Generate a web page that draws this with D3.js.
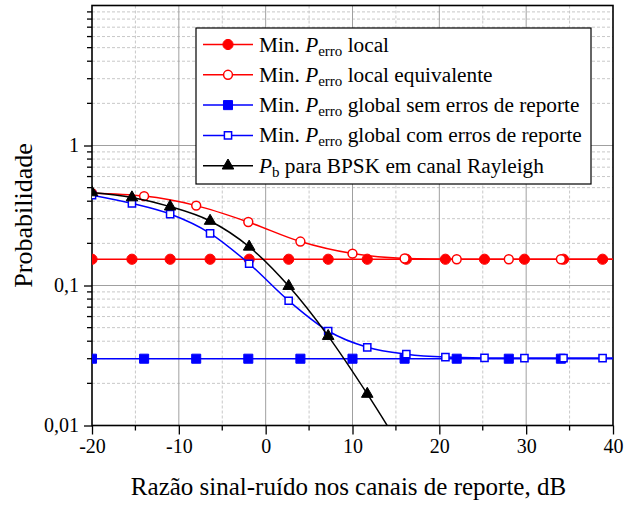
<!DOCTYPE html>
<html>
<head>
<meta charset="utf-8">
<script src="https://cdn.jsdelivr.net/npm/d3@7"></script>
<style>
  body { margin: 0; background: #fff; }
</style>
</head>
<body>
<div id="chart"></div>
<script>
// SNR values (dB) where the markers sit
const snrDense = [-20, -15.4, -11, -6.4, -1.9, 2.65, 7.2, 11.7, 16.2, 20.7, 25.2, 29.8, 34.3, 38.8, 40];
const snrSparse = [-20, -14, -8, -2, 4, 10, 16, 22, 28, 34, 40];

const localMin = [0.154, 0.154, 0.154, 0.154, 0.154, 0.154, 0.154, 0.154, 0.154, 0.154, 0.154, 0.154, 0.154, 0.154, 0.154];
const localEquiv = [0.456, 0.435, 0.372, 0.284, 0.206, 0.169, 0.156, 0.154, 0.154, 0.154, 0.154];
const globalNoErr = [0.030, 0.030, 0.030, 0.030, 0.030, 0.030, 0.030, 0.030, 0.030, 0.030, 0.030];
const globalErr = [0.442, 0.386, 0.324, 0.236, 0.143, 0.0778, 0.0473, 0.0362, 0.0323, 0.0308, 0.0304, 0.0303, 0.0303, 0.0303, 0.0303];
const pbRayleigh = [0.462, 0.425, 0.366, 0.289, 0.189, 0.099, 0.0435, 0.0168, 0.006];

const xTicks = [-20, -10, 0, 10, 20, 30, 40];
const yTicks = [0.01, 0.1, 1];
const yTickLabels = ["0,01", "0,1", "1"];

const series = [
  { sub: "erro", text: " local", xs: snrDense, ys: localMin, color: "#ff0000", shape: d3.symbolCircle, size: 82, filled: true },
  { sub: "erro", text: " local equivalente", xs: snrSparse, ys: localEquiv, color: "#ff0000", shape: d3.symbolCircle, size: 62, filled: false },
  { sub: "erro", text: " global sem erros de reporte", xs: snrSparse, ys: globalNoErr, color: "#0000ff", shape: d3.symbolSquare, size: 82, filled: true },
  { sub: "erro", text: " global com erros de reporte", xs: snrDense, ys: globalErr, color: "#0000ff", shape: d3.symbolSquare, size: 52, filled: false },
  { sub: "b", text: " para BPSK em canal Rayleigh", xs: snrDense.slice(0, pbRayleigh.length), ys: pbRayleigh, color: "#000000", shape: d3.symbolTriangle, size: 58, filled: true, noMin: true },
];

const FONT = "Liberation Serif";
const W = 624, H = 505;
const margin = { left: 92, top: 5.5, right: 11, bottom: 79.5 };
const width = W - margin.left - margin.right;
const height = H - margin.top - margin.bottom;

const svg = d3.select("#chart").append("svg")
  .attr("width", W).attr("height", H)
  .attr("font-family", FONT)
  .style("background", "#fff");

const g = svg.append("g").attr("transform", `translate(${margin.left},${margin.top})`);

const x = d3.scaleLinear().domain([-20, 40]).range([0, width]);
const y = d3.scaleLog().domain([0.01, 10]).range([height, 0]);

// minor grid
const xMinor = d3.range(-15, 40, 10);
const yMinor = [];
[0.01, 0.1, 1].forEach((dec) => { for (let k = 2; k <= 9; k++) yMinor.push(dec * k); });

g.append("g").selectAll("line").data(xMinor).enter().append("line")
  .attr("x1", (d) => x(d)).attr("x2", (d) => x(d)).attr("y1", 0).attr("y2", height)
  .attr("stroke", "#c8c8c8").attr("stroke-dasharray", "3,2");
g.append("g").selectAll("line").data(yMinor).enter().append("line")
  .attr("x1", 0).attr("x2", width).attr("y1", (d) => y(d)).attr("y2", (d) => y(d))
  .attr("stroke", "#c8c8c8").attr("stroke-dasharray", "3,2");

// major grid
g.append("g").selectAll("line").data(xTicks.slice(1, -1)).enter().append("line")
  .attr("x1", (d) => x(d)).attr("x2", (d) => x(d)).attr("y1", 0).attr("y2", height)
  .attr("stroke", "#a0a0a0");
g.append("g").selectAll("line").data([0.1, 1]).enter().append("line")
  .attr("x1", 0).attr("x2", width).attr("y1", (d) => y(d)).attr("y2", (d) => y(d))
  .attr("stroke", "#a0a0a0");

// axes
const xAxis = g.append("g").attr("transform", `translate(0,${height})`)
  .call(d3.axisBottom(x).tickValues(xTicks).tickSize(9).tickPadding(4).tickFormat((d) => d));
xAxis.append("g").selectAll("line").data(xMinor).enter().append("line")
  .attr("x1", (d) => x(d)).attr("x2", (d) => x(d)).attr("y1", 0).attr("y2", 5)
  .attr("stroke", "#000").attr("stroke-width", 1.3);

const yAxis = g.append("g")
  .call(d3.axisLeft(y).tickValues(yTicks).tickSize(8).tickPadding(5)
    .tickFormat((d, i) => yTickLabels[i]));
yAxis.append("g").selectAll("line").data(yMinor).enter().append("line")
  .attr("x1", -5).attr("x2", 0).attr("y1", (d) => y(d)).attr("y2", (d) => y(d))
  .attr("stroke", "#000").attr("stroke-width", 1.3);

[xAxis, yAxis].forEach((ax) => {
  ax.attr("font-family", FONT).attr("font-size", 20);
  ax.select(".domain").remove();
  ax.selectAll(".tick line").attr("stroke-width", 1.3);
  ax.selectAll(".tick text").attr("fill", "#000");
});

// frame
g.append("rect").attr("width", width).attr("height", height)
  .attr("fill", "none").attr("stroke", "#000").attr("stroke-width", 1.6);

// clip
svg.append("clipPath").attr("id", "plot-clip").append("rect")
  .attr("width", width).attr("height", height);

const plot = g.append("g").attr("clip-path", "url(#plot-clip)");

const line = d3.line().curve(d3.curveMonotoneX).x((d) => x(d[0])).y((d) => y(d[1]));

series.forEach((s) => {
  const pts = s.xs.map((v, i) => [v, s.ys[i]]);
  plot.append("path").datum(pts).attr("d", line)
    .attr("fill", "none").attr("stroke", s.color).attr("stroke-width", 1.5);
  plot.selectAll(null).data(pts.filter((p) => p[0] < 40)).enter().append("path")
    .attr("d", d3.symbol().type(s.shape).size(s.size))
    .attr("transform", (p) => `translate(${x(p[0])},${y(p[1])})`)
    .attr("fill", s.filled ? s.color : "#fff")
    .attr("stroke", s.color).attr("stroke-width", s.filled ? 1 : 1.5);
});

// legend
const legend = svg.append("g").attr("transform", "translate(196,28)");
legend.append("rect").attr("width", 395).attr("height", 156)
  .attr("fill", "#fff").attr("stroke", "#000").attr("stroke-width", 1.2);

const rows = legend.selectAll(".row").data(series).enter().append("g")
  .attr("transform", (d, i) => `translate(0,${16.5 + i * 30.3})`);
rows.append("line").attr("x1", 7).attr("x2", 57).attr("stroke", (d) => d.color).attr("stroke-width", 1.5);
rows.append("path")
  .attr("d", (d) => d3.symbol().type(d.shape).size(d.size)())
  .attr("transform", "translate(32,0)")
  .attr("fill", (d) => (d.filled ? d.color : "#fff"))
  .attr("stroke", (d) => d.color).attr("stroke-width", (d) => (d.filled ? 1 : 1.5));

const label = rows.append("text").attr("x", 63).attr("y", 7).attr("font-size", 21.3);
label.filter((d) => !d.noMin).append("tspan").text("Min. ");
label.append("tspan").attr("font-style", "italic").text("P");
label.append("tspan").attr("font-size", 15).attr("dy", 4).text((d) => d.sub);
label.append("tspan").attr("dy", -4).text((d) => d.text);

// axis titles
svg.append("text").attr("x", margin.left + width / 2 - 4).attr("y", 495)
  .attr("text-anchor", "middle").attr("font-size", 25)
  .text("Razão sinal-ruído nos canais de reporte, dB");
svg.append("text")
  .attr("transform", `translate(31.5,${margin.top + height / 2}) rotate(-90)`)
  .attr("text-anchor", "middle").attr("font-size", 26)
  .text("Probabilidade");
</script>
</body>
</html>
